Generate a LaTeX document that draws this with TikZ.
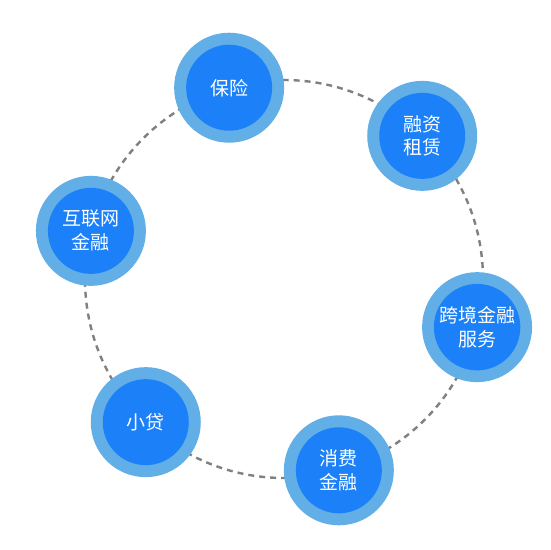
\documentclass[tikz,border=0pt]{standalone}
\usepackage{fontspec}
\usetikzlibrary{calc}
\setmainfont{Noto Sans CJK SC}
\definecolor{ringblue}{HTML}{62AEE6}
\definecolor{coreblue}{HTML}{1C80F8}
\definecolor{dashgray}{HTML}{808080}
\begin{document}
\begin{tikzpicture}[x=1pt,y=-1pt,
  ring/.style={circle,fill=ringblue,minimum size=110pt,inner sep=0pt},
  core/.style={circle,fill=coreblue,minimum size=86pt,inner sep=0pt,text=white,
    font=\fontsize{19}{24}\selectfont,align=center},
  orbit/.style={draw=dashgray,line width=2.4pt,dash pattern=on 6pt off 5pt}]
\useasboundingbox[fill=white] (0,0) rectangle (550,550);
\coordinate (c) at (284,279);
\draw[orbit] (c) circle[radius=199pt];
\foreach \n/\ang in {a/106, b/46, c2/-14, d/-74, e/-134, f/166}{
  \node[ring] (\n r) at ($(c)+(\ang:199pt)$) {};
}
\node[core] (a) at (ar) {保险};
\node[core] (b) at (br) {融资\\租赁};
\node[core] (c2) at (c2r) {跨境金融\\服务};
\node[core] (d) at (dr) {消费\\金融};
\node[core] (e) at (er) {小贷};
\node[core] (f) at (fr) {互联网\\金融};
\end{tikzpicture}
\end{document}
